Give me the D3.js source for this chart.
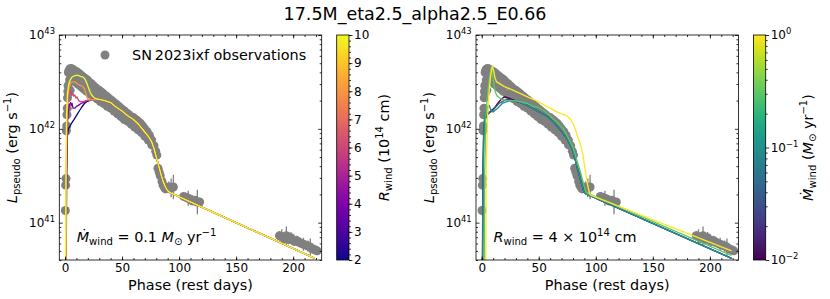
<!DOCTYPE html>
<html>
<head>
<meta charset="utf-8">
<script src="https://cdn.jsdelivr.net/npm/d3@7"></script>
<style>
  body { margin: 0; background: #fff; }
  text { font-family: "DejaVu Sans", sans-serif; fill: #000; }
</style>
</head>
<body>
<div id="chart"></div>
<script>
var title = "17.5M_eta2.5_alpha2.5_E0.66";

// SN 2023ixf pseudo-bolometric light curve: phase (rest days), log10 L (erg/s), error (dex)
var obsPhase = [
  0.3, 0.6, 0.9, 1.2, 1.5, 1.7, 2.0, 2.2, 2.5, 2.7, 3.0, 4.5,
  3.0, 3.5, 4.0, 4.6, 5.2, 5.8, 6.5, 7.3, 8.1, 9.0, 10, 11, 12, 13, 14, 15, 16.1, 17.2, 18.3, 19.5,
  20.6, 21.8, 23, 24.8, 26.5, 28.3, 30, 32, 34, 36, 38, 40, 42, 44, 46, 48, 50, 52, 54, 56,
  58, 60, 62, 64, 66, 68, 70, 72, 74, 76, 78, 79.5,
  4, 5, 6, 7.5, 9, 11, 13, 15, 17, 19, 22, 25, 28, 31, 34, 37, 40, 43, 46, 49,
  52, 55, 58, 61, 64, 67, 70, 73, 76,
  80.5, 81.5, 82.5, 83.5, 85, 86, 87, 88, 89.5, 91, 93, 95,
  104, 106, 108, 110, 112, 114, 116, 118,
  188, 190, 192, 194, 196, 198, 201, 203, 205, 207, 209, 211, 213, 215, 217, 219, 221
];
var obsLogL = [
  41.13, 41.40, 41.47, 41.98, 42.03, 42.15, 42.22, 42.33, 42.40, 42.46, 42.38, 42.41,
  42.60, 42.62, 42.63, 42.64, 42.64, 42.64, 42.63, 42.63, 42.62, 42.61, 42.61, 42.60, 42.59, 42.58, 42.57, 42.56, 42.55, 42.54, 42.53, 42.52,
  42.50, 42.49, 42.48, 42.46, 42.44, 42.42, 42.41, 42.39, 42.37, 42.35, 42.33, 42.31, 42.29, 42.27, 42.25, 42.23, 42.21, 42.19, 42.17, 42.15,
  42.13, 42.12, 42.10, 42.08, 42.06, 42.03, 42.00, 41.97, 41.93, 41.88, 41.82, 41.76,
  42.52, 42.53, 42.53, 42.52, 42.50, 42.48, 42.46, 42.44, 42.42, 42.40, 42.37, 42.35, 42.32, 42.29, 42.27, 42.24, 42.22, 42.19, 42.16, 42.13,
  42.10, 42.08, 42.05, 42.02, 41.99, 41.96, 41.92, 41.88, 41.83,
  41.72, 41.58, 41.54, 41.50, 41.44, 41.40, 41.38, 41.36, 41.37, 41.38, 41.37, 41.38,
  41.28, 41.27, 41.26, 41.25, 41.23, 41.24, 41.22, 41.22,
  40.86, 40.85, 40.83, 40.86, 40.82, 40.84, 40.80, 40.81, 40.79, 40.78, 40.77, 40.76, 40.75, 40.74, 40.72, 40.71, 40.70
];
var obsErr = [
  0.05, 0.03, 0.03, 0.02, 0.02, 0.02, 0.02, 0.02, 0.02, 0.02, 0.02, 0.02,
  0, 0, 0, 0, 0, 0, 0, 0, 0, 0, 0, 0, 0, 0, 0, 0, 0, 0, 0, 0,
  0, 0, 0, 0, 0, 0, 0, 0, 0, 0, 0, 0, 0, 0, 0, 0, 0, 0, 0, 0,
  0, 0, 0, 0, 0, 0, 0, 0, 0, 0, 0, 0,
  0, 0, 0, 0, 0, 0, 0, 0, 0, 0, 0, 0, 0, 0, 0, 0, 0, 0, 0, 0,
  0, 0, 0, 0, 0, 0, 0, 0, 0,
  0.03, 0.03, 0.03, 0.03, 0.04, 0.04, 0.05, 0.04, 0.05, 0.06, 0.10, 0.13,
  0.03, 0.03, 0.08, 0.03, 0.03, 0.04, 0.13, 0.04,
  0.05, 0.08, 0.05, 0.10, 0.05, 0.06, 0.04, 0.05, 0.04, 0.05, 0.07, 0.04, 0.06, 0.09, 0.04, 0.05, 0.04
];

var xTicks = [0, 50, 100, 150, 200];
var yTicks = [1e41, 1e42, 1e43];

// left panel: Mdot_wind = 0.1 Msun/yr, R_wind in 1e14 cm  [phase, log10 L]
var rWind = [2, 4, 6, 8, 10];
var rWindTicks = [2, 3, 4, 5, 6, 7, 8, 9, 10];
var rw2 = [[0.9, 40.2], [1.4, 41.5], [2.0, 41.92], [3.0, 42.0], [4.4, 42.03], [5.8, 42.06], [8, 42.10], [10, 42.14],
  [12.5, 42.19], [14.6, 42.23], [17, 42.27], [19, 42.29], [23.4, 42.31], [28, 42.32]];
var rw4 = [[0.8, 40.2], [1.3, 41.5], [2.0, 42.05], [3.0, 42.2], [4.0, 42.26], [5.0, 42.28], [5.6, 42.25], [6.2, 42.27],
  [7.0, 42.22], [8.8, 42.22], [10, 42.24], [11.7, 42.25], [14, 42.27], [16, 42.28], [19, 42.30], [22, 42.31], [28, 42.32]];
var rw6 = [[0.7, 40.2], [1.2, 41.5], [1.8, 42.1], [2.6, 42.3], [3.5, 42.38], [4.5, 42.41], [5.2, 42.40], [6, 42.36],
  [6.8, 42.38], [7.5, 42.35], [8.5, 42.36], [9.5, 42.33], [10.5, 42.34], [12, 42.30], [13.5, 42.29], [16, 42.29],
  [19, 42.30], [22, 42.31], [28, 42.32]];
var rw8 = [[0.6, 40.2], [1.0, 41.5], [1.6, 42.1], [2.5, 42.35], [3.5, 42.44], [5, 42.49], [6.5, 42.50], [8.5, 42.50],
  [10, 42.49], [12, 42.47], [14, 42.46], [15.5, 42.45], [17, 42.43], [18.2, 42.38], [19.5, 42.33], [21, 42.31],
  [24, 42.31], [28, 42.32]];
var rw10 = [[0.4, 40.2], [0.8, 41.5], [1.4, 42.15], [2.2, 42.38], [3.2, 42.47], [4.5, 42.52], [6, 42.55], [7.3, 42.56],
  [9.5, 42.57], [11.7, 42.57], [13.5, 42.56], [16, 42.55], [17.5, 42.53], [19, 42.49], [20.5, 42.44], [22, 42.39],
  [23.4, 42.36], [25.5, 42.33], [27.8, 42.32]];
var leftDecline = [[35, 42.30], [40, 42.28], [45, 42.23], [50, 42.19], [55, 42.14], [60, 42.10], [65, 42.04], [69, 41.98],
  [73, 41.92], [76, 41.86], [78, 41.79], [80, 41.70], [82, 41.61], [84, 41.52], [86, 41.44], [88, 41.38], [90, 41.34],
  [92, 41.32], [219, 40.62]];

// right panel: R_wind = 4e14 cm, Mdot_wind in Msun/yr
var mdot = [0.01, 0.03, 0.1, 0.3, 1];
var mdotTicks = [0.01, 0.1, 1];
var md001 = [[0.5, 40.2], [1.0, 41.5], [1.7, 41.98], [3, 42.10], [4.5, 42.14], [5.8, 42.16], [8, 42.19], [10, 42.21],
  [11.7, 42.23], [14, 42.27], [16, 42.30], [18.5, 42.33], [20.5, 42.34], [23, 42.33], [27, 42.31]];
var md003 = [[0.6, 40.2], [1.1, 41.5], [1.9, 42.03], [3, 42.12], [4.5, 42.17], [5.5, 42.18], [6.5, 42.17], [8, 42.18],
  [10, 42.20], [12, 42.23], [15, 42.27], [18, 42.29], [21, 42.31], [24, 42.31], [28, 42.30]];
var md01 = [[0.8, 40.2], [1.3, 41.5], [2.2, 42.08], [3.5, 42.18], [5, 42.22], [6.5, 42.25], [7.5, 42.22], [8.5, 42.19],
  [10, 42.18], [12, 42.20], [14, 42.22], [18, 42.27], [22, 42.29], [26, 42.30], [30, 42.30]];
var rightDecline = [[34, 42.28], [40, 42.25], [46, 42.21], [52, 42.17], [58, 42.13], [64, 42.06], [70, 41.97], [75, 41.89],
  [79, 41.80], [82, 41.67], [85, 41.53], [87.5, 41.42], [89.5, 41.33], [91, 41.31], [219, 40.62]];
var md03 = [[2.0, 40.2], [2.6, 41.5], [3.5, 42.1], [5, 42.35], [6.5, 42.52], [7.8, 42.62], [8.7, 42.66], [9.5, 42.58],
  [10.8, 42.46], [12, 42.39], [13.5, 42.35], [17, 42.32], [22, 42.30], [28, 42.30], [33.6, 42.29], [40, 42.27],
  [45, 42.24], [49.7, 42.23], [55, 42.19], [60, 42.14], [66, 42.07], [71.6, 42.00], [76, 41.90], [80, 41.80],
  [84, 41.64], [87, 41.52], [89.5, 41.40], [91.5, 41.32], [219, 40.65]];
var md1 = [[3.4, 40.2], [3.9, 41.5], [5, 42.1], [6.5, 42.4], [8, 42.58], [9.3, 42.67], [10.5, 42.62], [11.5, 42.55],
  [13, 42.50], [20, 42.45], [27.8, 42.41], [35, 42.37], [42, 42.33], [48, 42.30], [55, 42.25], [60, 42.22],
  [65.8, 42.18], [70, 42.16], [74.6, 42.14], [78, 42.10], [80.4, 42.05], [83, 41.96], [86.3, 41.84], [88.5, 41.74],
  [90.5, 41.58], [92.5, 41.42], [94.5, 41.31], [96, 41.29], [219, 40.70]];

var leftModels = [rw2.concat(leftDecline), rw4.concat(leftDecline), rw6.concat(leftDecline),
  rw8.concat(leftDecline), rw10.concat(leftDecline)];
var rightModels = [md001.concat(rightDecline), md003.concat(rightDecline), md01.concat(rightDecline), md03, md1];

var plasma = d3.scaleSequential(d3.interpolatePlasma).domain([2, 10]);
var viridis = d3.scaleSequentialLog(d3.interpolateViridis).domain([0.01, 1]);

var plotTop = 35, plotBottom = 260, pw = 262.4;

var svg = d3.select("#chart").append("svg").attr("width", 830).attr("height", 299);
var defs = svg.append("defs");

svg.append("text").attr("x", 415).attr("y", 20).attr("text-anchor", "middle")
  .attr("font-size", 17.5).text(title);

// mathtext-like runs: [text, "it" | "sub" | "sup"]
function rich(sel, parts, size) {
  var shift = 0;
  parts.forEach(function(p) {
    var t = sel.append("tspan").text(p[0]);
    var m = p[1] || "";
    var target = m === "sub" ? 0.23 * size : (m === "sup" ? -0.42 * size : 0);
    if (target !== shift) { t.attr("dy", target - shift); shift = target; }
    if (m === "sub" || m === "sup") t.attr("font-size", size * 0.7);
    if (m === "it") t.attr("font-style", "italic");
  });
}

function styleAxis(g, size) {
  g.select(".domain").remove();
  g.selectAll(".tick line").attr("stroke", "#000").attr("stroke-width", 0.8);
  g.selectAll("text").attr("font-size", size).attr("font-family", "DejaVu Sans").attr("fill", "#000");
}

function supLabel(g, fmt) {
  g.selectAll(".tick text").text(null).each(function(d) {
    rich(d3.select(this), [["10"], [fmt(d), "sup"]], 12);
  });
}

function panel(o) {
  var left = o.left, right = o.left + pw;
  var x = d3.scaleLinear().domain([-5, 225]).range([left, right]);
  var y = d3.scaleLog().domain([4e40, 1e43]).range([plotBottom, plotTop]);
  var g = svg.append("g");

  defs.append("clipPath").attr("id", "clip" + o.id).append("rect")
    .attr("x", left).attr("y", plotTop).attr("width", pw).attr("height", plotBottom - plotTop);
  var plot = g.append("g").attr("clip-path", "url(#clip" + o.id + ")");

  // observations
  var obs = obsPhase.map(function(p, i) { return { p: p, l: obsLogL[i], e: obsErr[i] }; });
  plot.selectAll("line.err").data(obs.filter(function(d) { return d.e > 0; })).enter().append("line")
    .attr("x1", function(d) { return x(d.p); }).attr("x2", function(d) { return x(d.p); })
    .attr("y1", function(d) { return y(Math.pow(10, d.l - d.e)); })
    .attr("y2", function(d) { return y(Math.pow(10, d.l + d.e)); })
    .attr("stroke", "#808080").attr("stroke-width", 1.3);
  plot.selectAll("circle").data(obs).enter().append("circle")
    .attr("cx", function(d) { return x(d.p); }).attr("cy", function(d) { return y(Math.pow(10, d.l)); })
    .attr("r", 4.5).attr("fill", "#808080");

  // models
  var line = d3.line().x(function(d) { return x(d[0]); }).y(function(d) { return y(Math.pow(10, d[1])); });
  o.models.forEach(function(m, i) {
    plot.append("path").attr("d", line(m)).attr("fill", "none")
      .attr("stroke", o.color(o.values[i])).attr("stroke-width", 1.35).attr("stroke-linejoin", "round");
  });

  // axes, ticks inward on all sides
  var xMinor = d3.range(0, 226, 10);
  var yMinor = [];
  [40, 41, 42].forEach(function(e) { for (var k = 2; k <= 9; k++) { var v = k * Math.pow(10, e); if (v >= 4e40) yMinor.push(v); } });

  g.append("g").attr("transform", "translate(0," + plotBottom + ")")
    .call(d3.axisBottom(x).tickValues(xMinor).tickSize(-2).tickFormat("")).call(styleAxis, 12);
  g.append("g").attr("transform", "translate(0," + plotBottom + ")")
    .call(d3.axisBottom(x).tickValues(xTicks).tickSize(-3.5).tickPadding(3.5)).call(styleAxis, 12);
  g.append("g").attr("transform", "translate(0," + plotTop + ")")
    .call(d3.axisTop(x).tickValues(xMinor).tickSize(-2).tickFormat("")).call(styleAxis, 12);
  g.append("g").attr("transform", "translate(0," + plotTop + ")")
    .call(d3.axisTop(x).tickValues(xTicks).tickSize(-3.5).tickFormat("")).call(styleAxis, 12);
  g.append("g").attr("transform", "translate(" + left + ",0)")
    .call(d3.axisLeft(y).tickValues(yMinor).tickSize(-2).tickFormat("")).call(styleAxis, 12);
  g.append("g").attr("transform", "translate(" + left + ",0)")
    .call(d3.axisLeft(y).tickValues(yTicks).tickSize(-3.5).tickPadding(4.3)).call(styleAxis, 12)
    .call(supLabel, function(d) { return String(Math.round(Math.log10(d))); });
  g.append("g").attr("transform", "translate(" + right + ",0)")
    .call(d3.axisRight(y).tickValues(yMinor).tickSize(-2).tickFormat("")).call(styleAxis, 12);
  g.append("g").attr("transform", "translate(" + right + ",0)")
    .call(d3.axisRight(y).tickValues(yTicks).tickSize(-3.5).tickFormat("")).call(styleAxis, 12);

  g.append("rect").attr("x", left).attr("y", plotTop).attr("width", pw).attr("height", plotBottom - plotTop)
    .attr("fill", "none").attr("stroke", "#000").attr("stroke-width", 0.8);

  // axis labels
  g.append("text").attr("x", (left + right) / 2).attr("y", 290).attr("text-anchor", "middle")
    .attr("font-size", 14.4).text("Phase (rest days)");
  var yl = g.append("text").attr("transform", "translate(" + (left - 42.3) + "," + ((plotTop + plotBottom) / 2) + ") rotate(-90)")
    .attr("text-anchor", "middle").attr("font-size", 14.4);
  rich(yl, [["L", "it"], ["pseudo", "sub"], [" (erg s"], ["\u22121", "sup"], [")"]], 14.4);

  // annotation
  var an = g.append("text").attr("x", left + 17.4).attr("y", 241.7).attr("font-size", 14.4);
  rich(an, o.note, 14.4);

  // colorbar
  var cx = right + 15, cw = 12.3;
  var grad = defs.append("linearGradient").attr("id", "grad" + o.id)
    .attr("x1", 0).attr("y1", 1).attr("x2", 0).attr("y2", 0);
  d3.range(0, 1.0001, 0.05).forEach(function(t) {
    grad.append("stop").attr("offset", t).attr("stop-color", o.interp(t));
  });
  g.append("rect").attr("x", cx).attr("y", plotTop).attr("width", cw).attr("height", plotBottom - plotTop)
    .attr("fill", "url(#grad" + o.id + ")").attr("stroke", "#000").attr("stroke-width", 0.8);
  g.append("g").attr("transform", "translate(" + (cx + cw) + ",0)")
    .call(d3.axisRight(o.cbScale).tickValues(o.cbMinor).tickSize(2).tickFormat("")).call(styleAxis, 12);
  var cbAxis = g.append("g").attr("transform", "translate(" + (cx + cw) + ",0)")
    .call(d3.axisRight(o.cbScale).tickValues(o.cbTicks).tickSize(3.5).tickPadding(1.5)).call(styleAxis, 12);
  if (o.cbSup) cbAxis.call(supLabel, o.cbSup);
  var cl = g.append("text").attr("transform", "translate(" + (cx + cw + o.cbLabelGap) + "," + ((plotTop + plotBottom) / 2) + ") rotate(-90)")
    .attr("text-anchor", "middle").attr("font-size", 14.4);
  rich(cl, o.cbLabel, 14.4);

  return { x: x, y: y, g: g };
}

var L = panel({
  id: "L", left: 59.3, models: leftModels, values: rWind, color: plasma,
  note: [["\u1E40", "it"], ["wind", "sub"], [" = 0.1 "], ["M", "it"], ["\u2299", "sub"], [" yr"], ["\u22121", "sup"]],
  interp: d3.interpolatePlasma,
  cbScale: d3.scaleLinear().domain([2, 10]).range([plotBottom, plotTop]),
  cbTicks: rWindTicks, cbMinor: d3.range(2, 10.01, 0.2),
  cbLabelGap: 40,
  cbLabel: [["R", "it"], ["wind", "sub"], [" (10"], ["14", "sup"], [" cm)"]]
});

var R = panel({
  id: "R", left: 476.0, models: rightModels, values: mdot, color: viridis,
  note: [["R", "it"], ["wind", "sub"], [" = 4 \u00D7 10"], ["14", "sup"], [" cm"]],
  interp: d3.interpolateViridis,
  cbScale: d3.scaleLog().domain([0.01, 1]).range([plotBottom, plotTop]),
  cbTicks: mdotTicks, cbMinor: [0.02, 0.03, 0.04, 0.05, 0.06, 0.07, 0.08, 0.09, 0.2, 0.3, 0.4, 0.5, 0.6, 0.7, 0.8, 0.9],
  cbSup: function(d) { var e = Math.round(Math.log10(d)); return e < 0 ? "\u2212" + (-e) : String(e); },
  cbLabelGap: 47,
  cbLabel: [["\u1E40", "it"], ["wind", "sub"], [" ("], ["M", "it"], ["\u2299", "sub"], [" yr"], ["\u22121", "sup"], [")"]]
});

// legend (left panel only)
L.g.append("circle").attr("cx", 105).attr("cy", 55).attr("r", 4.5).attr("fill", "#808080");
L.g.append("text").attr("x", 132).attr("y", 59.5).attr("font-size", 14.4).text("SN\u20092023ixf observations");
</script>
</body>
</html>
